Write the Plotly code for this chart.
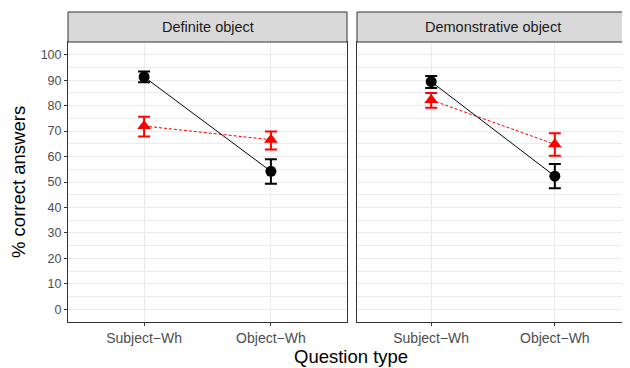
import plotly.graph_objects as go

panels = ["Definite object", "Demonstrative object"]
categories = ["Subject\u2212Wh", "Object\u2212Wh"]

# black (circle) series
black_mean = {"Definite object": [91.3, 54.2], "Demonstrative object": [89.4, 52.3]}
black_lo = {"Definite object": [89.2, 49.3], "Demonstrative object": [86.9, 47.5]}
black_hi = {"Definite object": [93.4, 58.9], "Demonstrative object": [91.6, 57.1]}
# red (triangle) series
red_mean = {"Definite object": [72.0, 66.6], "Demonstrative object": [82.2, 64.8]}
red_lo = {"Definite object": [67.9, 62.8], "Demonstrative object": [79.2, 60.3]}
red_hi = {"Definite object": [75.6, 69.8], "Demonstrative object": [85.0, 69.2]}

yticks = list(range(0, 101, 10))
yminor = list(range(5, 100, 10))

# page body has an 8px margin; the figure is placed at (8, 8)
OFF = 8
W, H = 630 - OFF, 368 - OFF
FONT = "Liberation Sans, Arial"


def px(x):
    return (x - OFF) / W


def py(y):
    return (H - (y - OFF)) / H


fig = go.Figure()

doms = [(px(68), px(347)), (px(357), px(629))]
ydom = (py(322), py(42))
strip_top = py(12)

xpos = [1, 2]
for i, p in enumerate(panels):
    xa = "x" if i == 0 else "x2"
    ya = "y" if i == 0 else "y2"
    fig.add_trace(go.Scatter(
        x=xpos, y=red_mean[p], xaxis=xa, yaxis=ya, mode="lines+markers",
        line=dict(color="red", width=1, dash="3px,2px"),
        marker=dict(symbol="triangle-up", size=12, color="red"),
        error_y=dict(type="data", symmetric=False,
                     array=[h - m for h, m in zip(red_hi[p], red_mean[p])],
                     arrayminus=[m - l for l, m in zip(red_lo[p], red_mean[p])],
                     color="red", thickness=2, width=6),
        showlegend=False, cliponaxis=False))
    fig.add_trace(go.Scatter(
        x=xpos, y=black_mean[p], xaxis=xa, yaxis=ya, mode="lines+markers",
        line=dict(color="black", width=1),
        marker=dict(symbol="circle", size=11, color="black"),
        error_y=dict(type="data", symmetric=False,
                     array=[h - m for h, m in zip(black_hi[p], black_mean[p])],
                     arrayminus=[m - l for l, m in zip(black_lo[p], black_mean[p])],
                     color="black", thickness=2, width=6),
        showlegend=False, cliponaxis=False))

    fig.add_shape(type="rect", xref="paper", yref="paper",
                  x0=doms[i][0], x1=doms[i][1], y0=ydom[1], y1=strip_top,
                  fillcolor="#D9D9D9", line=dict(color="#333333", width=1), layer="above")
    fig.add_annotation(text=p, xref="paper", yref="paper",
                       x=(doms[i][0] + doms[i][1]) / 2, y=(ydom[1] + strip_top) / 2,
                       showarrow=False, font=dict(size=14.5, color="#1A1A1A", family=FONT),
                       xanchor="center", yanchor="middle")

axis_common = dict(showline=True, mirror=True, linecolor="#333333", linewidth=1,
                   ticklen=3, tickcolor="#333333",
                   gridcolor="#EBEBEB", zeroline=False)

for i in range(2):
    xkey = "xaxis" if i == 0 else "xaxis2"
    ykey = "yaxis" if i == 0 else "yaxis2"
    fig.layout[xkey] = dict(domain=list(doms[i]), range=[0.4, 2.6],
                            tickvals=xpos, ticktext=categories, gridwidth=1.1,
                            ticks="outside",
                            tickfont=dict(size=14, color="#4D4D4D", family=FONT),
                            anchor="y" if i == 0 else "y2", **axis_common)
    fig.layout[ykey] = dict(domain=list(ydom), range=[-5, 105], tickvals=yticks,
                            showticklabels=(i == 0), gridwidth=1.1,
                            ticks="outside" if i == 0 else "",
                            tickfont=dict(size=12.5, color="#4D4D4D", family=FONT),
                            anchor="x" if i == 0 else "x2",
                            minor=dict(tickvals=yminor, showgrid=True,
                                       gridcolor="#EBEBEB", gridwidth=0.55, ticks=""),
                            **axis_common)

fig.add_annotation(text="% correct answers", xref="paper", yref="paper",
                   x=px(18), y=(ydom[0] + ydom[1]) / 2, textangle=-90, showarrow=False,
                   font=dict(size=18.5, color="black", family=FONT),
                   xanchor="center", yanchor="middle")
fig.add_annotation(text="Question type", xref="paper", yref="paper",
                   x=px(351), y=py(356), showarrow=False,
                   font=dict(size=18.5, color="black", family=FONT),
                   xanchor="center", yanchor="middle")

fig.update_layout(width=W, height=H, margin=dict(l=0, r=0, t=0, b=0),
                  paper_bgcolor="white", plot_bgcolor="white",
                  font=dict(family=FONT))

fig.write_html("out.html")
